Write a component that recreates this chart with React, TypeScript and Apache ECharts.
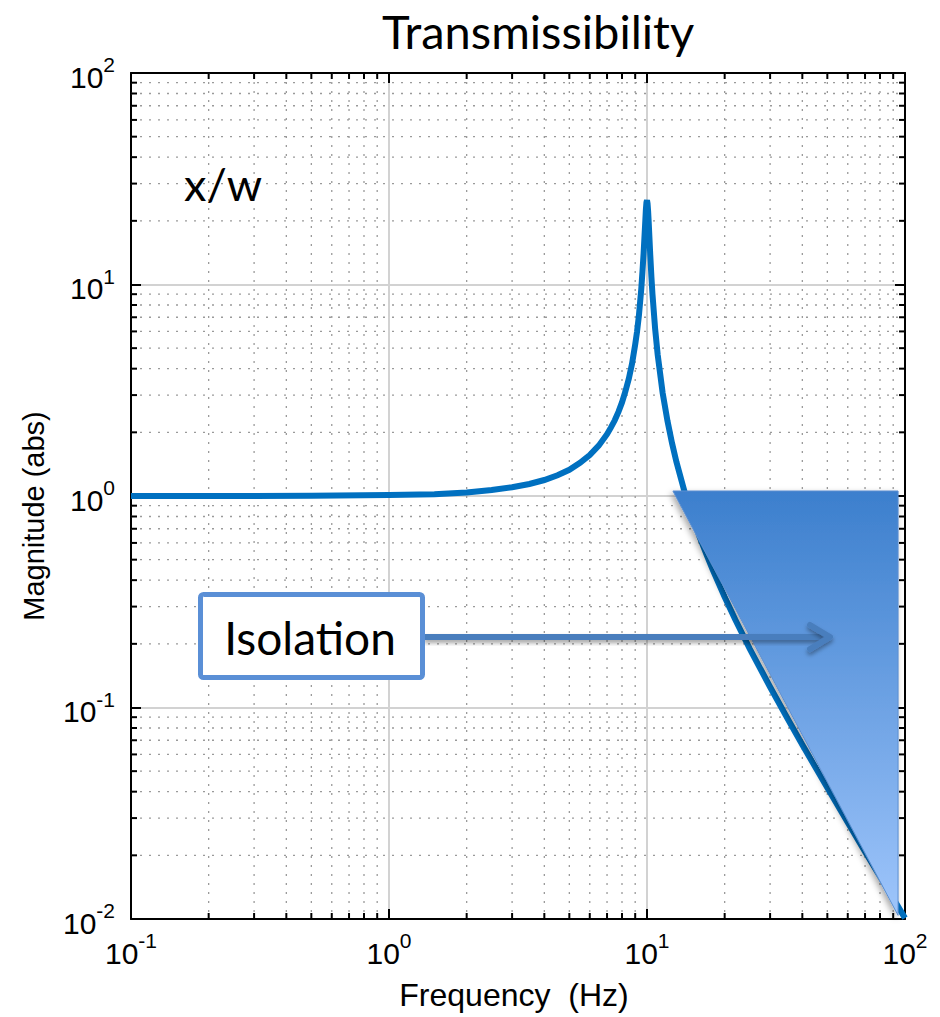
import React, { useEffect, useRef } from "react";
import * as echarts from "echarts";

// Transmissibility curve (Hz, |x/w|)
const freqHz = [
  0.1, 0.2, 0.5, 1, 1.5, 2, 2.5, 3, 3.5, 4, 4.5, 5, 5.5, 6, 6.5, 7, 7.25, 7.5, 7.75, 8, 8.25, 8.5, 8.75, 9,
  9.15, 9.3, 9.5, 9.6, 9.7, 9.85, 9.9, 9.95, 10, 10.05, 10.1, 10.15, 10.3, 10.4, 10.5, 10.75, 11, 11.5, 12,
  12.5, 13, 14, 15, 16, 17, 18, 20, 22, 25, 30, 35, 40, 50, 60, 70, 80, 100,
];
const magnitude = [
  1.0, 1.0, 1.002, 1.01, 1.02, 1.04, 1.067, 1.1, 1.14, 1.19, 1.254, 1.33, 1.434, 1.56, 1.73, 1.96, 2.11, 2.28,
  2.5, 2.77, 3.13, 3.58, 4.22, 5.2, 5.99, 7.1, 9.5, 11.45, 14, 20, 22.6, 24.4, 25, 24.1, 22.2, 19.8, 13.6,
  10.9, 9.0, 6.2, 4.66, 3.07, 2.27, 1.78, 1.45, 1.04, 0.8, 0.64, 0.53, 0.446, 0.333, 0.26, 0.19, 0.125,
  0.0889, 0.0667, 0.0417, 0.0286, 0.0208, 0.0159, 0.0101,
];

// Minor (dotted) grid / tick values
const xMinor = [0.2, 0.3, 0.4, 0.5, 0.6, 0.7, 0.8, 0.9, 2, 3, 4, 5, 6, 7, 8, 9, 20, 30, 40, 50, 60, 70, 80, 90];
const yMinor = [
  0.02, 0.03, 0.04, 0.05, 0.06, 0.07, 0.08, 0.09, 0.2, 0.3, 0.4, 0.5, 0.6, 0.7, 0.8, 0.9,
  2, 3, 4, 5, 6, 7, 8, 9, 20, 30, 40, 50, 60, 70, 80, 90,
];

// Isolation region triangle (data coordinates)
const isolationX = [12.6, 94, 94];
const isolationY = [1.056, 1.056, 0.0104];

const title = "Transmissibility";
const xName = "Frequency  (Hz)";
const yName = "Magnitude (abs)";
const curveLabel = "x/w";
const isolationLabel = "Isolation";

const expLabel = (v: number) => `{b|10}{s|${Math.round(Math.log10(v))}}`;
const richTick = {
  b: { fontSize: 30, lineHeight: 38, verticalAlign: "bottom", fontFamily: "Liberation Sans", color: "#000" },
  s: { fontSize: 21, lineHeight: 21, verticalAlign: "top", fontFamily: "Liberation Sans", color: "#000" },
};

export default function App() {
  const ref = useRef<HTMLDivElement>(null);
  useEffect(() => {
    if (!ref.current) return;
    const chart = echarts.init(ref.current, null, { renderer: "svg" });
    const tickFont = "Liberation Sans";
    const slideFont = "Lato";
    const curveData = freqHz.map((f, i) => [f, magnitude[i]]);
    const baseX = { type: "log", logBase: 10, min: 0.1, max: 100, splitNumber: 3 };
    const baseY = { type: "log", logBase: 10, min: 0.01, max: 100, splitNumber: 4 };
    const arrowColor = "#4a7ebd";
    const shadow = { shadowBlur: 4, shadowOffsetY: 3, shadowColor: "rgba(0,0,0,0.35)" };
    chart.setOption({
      animation: false,
      backgroundColor: "#fff",
      grid: { left: 131, right: 35, top: 73, bottom: 98, containLabel: false },
      xAxis: [
        {
          ...baseX,
          position: "bottom",
          axisLine: { show: true, lineStyle: { color: "#000", width: 2 } },
          axisTick: { show: true, inside: true, length: 10, lineStyle: { color: "#000", width: 2 } },
          axisLabel: { formatter: expLabel, rich: richTick, margin: 11, fontFamily: tickFont },
          splitLine: { show: true, lineStyle: { color: "#d2d2d2", width: 2 } },
        },
        {
          ...baseX,
          position: "top",
          axisLine: { show: true, lineStyle: { color: "#000", width: 2 } },
          axisTick: { show: true, inside: true, length: 10, lineStyle: { color: "#000", width: 2 } },
          axisLabel: { show: false },
          splitLine: { show: false },
        },
      ],
      yAxis: [
        {
          ...baseY,
          position: "left",
          axisLine: { show: true, lineStyle: { color: "#000", width: 2 } },
          axisTick: { show: true, inside: true, length: 10, lineStyle: { color: "#000", width: 2 } },
          axisLabel: { formatter: expLabel, rich: richTick, margin: 16, fontFamily: tickFont },
          splitLine: { show: true, lineStyle: { color: "#d2d2d2", width: 2 } },
        },
        {
          ...baseY,
          position: "right",
          axisLine: { show: true, lineStyle: { color: "#000", width: 2 } },
          axisTick: { show: true, inside: true, length: 10, lineStyle: { color: "#000", width: 2 } },
          axisLabel: { show: false },
          splitLine: { show: false },
        },
      ],
      series: [
        {
          name: "minorX",
          type: "custom",
          xAxisIndex: 0,
          yAxisIndex: 0,
          z: 1,
          silent: true,
          data: xMinor.map((v) => [v, 1]),
          renderItem: (params: any, api: any) => {
            const cs = params.coordSys;
            const px = api.coord([api.value(0), 1])[0];
            const top = cs.y;
            const bot = cs.y + cs.height;
            return {
              type: "group",
              children: [
                { type: "line", shape: { x1: px, y1: top, x2: px, y2: bot }, style: { stroke: "#9a9a9a", lineWidth: 1.3, lineDash: [2, 7] } },
                { type: "line", shape: { x1: px, y1: bot, x2: px, y2: bot - 6 }, style: { stroke: "#000", lineWidth: 2 } },
                { type: "line", shape: { x1: px, y1: top, x2: px, y2: top + 6 }, style: { stroke: "#000", lineWidth: 2 } },
              ],
            };
          },
        },
        {
          name: "minorY",
          type: "custom",
          xAxisIndex: 0,
          yAxisIndex: 0,
          z: 1,
          silent: true,
          data: yMinor.map((v) => [1, v]),
          renderItem: (params: any, api: any) => {
            const cs = params.coordSys;
            const py = api.coord([1, api.value(1)])[1];
            const l = cs.x;
            const r = cs.x + cs.width;
            return {
              type: "group",
              children: [
                { type: "line", shape: { x1: l, y1: py, x2: r, y2: py }, style: { stroke: "#9a9a9a", lineWidth: 1.3, lineDash: [2, 7] } },
                { type: "line", shape: { x1: l, y1: py, x2: l + 6, y2: py }, style: { stroke: "#000", lineWidth: 2 } },
                { type: "line", shape: { x1: r, y1: py, x2: r - 6, y2: py }, style: { stroke: "#000", lineWidth: 2 } },
              ],
            };
          },
        },
        {
          name: "x/w",
          type: "line",
          xAxisIndex: 0,
          yAxisIndex: 0,
          z: 3,
          showSymbol: false,
          symbol: "none",
          data: curveData,
          lineStyle: { color: "#0070c0", width: 6, cap: "butt", join: "miter" },
          itemStyle: { color: "#0070c0" },
        },
        {
          name: "Isolation region",
          type: "custom",
          xAxisIndex: 0,
          yAxisIndex: 0,
          z: 4,
          silent: true,
          data: isolationX.map((x, i) => [x, isolationY[i]]),
          renderItem: (params: any, api: any) => {
            if (params.dataIndex !== 0) return null;
            const pts = isolationX.map((x, i) => api.coord([x, isolationY[i]]));
            return {
              type: "polygon",
              shape: { points: pts },
              style: {
                fill: new echarts.graphic.LinearGradient(0, 0, 0, 1, [
                  { offset: 0, color: "#3c7fcd" },
                  { offset: 1, color: "#9ec5fb" },
                ]),
                stroke: "#5d8fd0",
                lineWidth: 1,
                shadowBlur: 6,
                shadowOffsetX: -2,
                shadowOffsetY: 3,
                shadowColor: "rgba(0,0,0,0.35)",
              },
            };
          },
        },
      ],
      graphic: [
        {
          type: "text",
          x: 538,
          y: 31,
          z: 10,
          style: { text: title, font: `47px ${slideFont}`, fill: "#000", align: "center", verticalAlign: "middle" },
        },
        {
          type: "text",
          x: 184,
          y: 184,
          z: 10,
          style: { text: curveLabel, font: `45px ${slideFont}`, fill: "#000", align: "left", verticalAlign: "middle" },
        },
        {
          type: "text",
          x: 34,
          y: 516,
          rotation: Math.PI / 2,
          z: 10,
          style: { text: yName, font: `29px "${tickFont}"`, fill: "#000", align: "center", verticalAlign: "middle" },
        },
        {
          type: "text",
          x: 514,
          y: 995,
          z: 10,
          style: { text: xName, font: `32px "${tickFont}"`, fill: "#000", align: "center", verticalAlign: "middle" },
        },
        {
          type: "rect",
          z: 11,
          shape: { x: 424, y: 634, width: 400, height: 6 },
          style: { fill: arrowColor, ...shadow },
        },
        {
          type: "polyline",
          z: 11,
          shape: { points: [[810, 625], [830, 637], [810, 649]] },
          style: { stroke: arrowColor, lineWidth: 6, lineCap: "round", lineJoin: "round", fill: null, ...shadow },
        },
        {
          type: "rect",
          z: 12,
          shape: { x: 200.5, y: 594.5, width: 222, height: 83, r: 3 },
          style: { fill: "#fff", stroke: "#5a8fd6", lineWidth: 5 },
        },
        {
          type: "text",
          x: 310,
          y: 637,
          z: 13,
          style: { text: isolationLabel, font: `46px ${slideFont}`, fill: "#000", align: "center", verticalAlign: "middle" },
        },
      ],
    });
    return () => chart.dispose();
  }, []);
  return <div ref={ref} style={{ position: "absolute", left: 0, top: 0, width: 940, height: 1017 }} />;
}
